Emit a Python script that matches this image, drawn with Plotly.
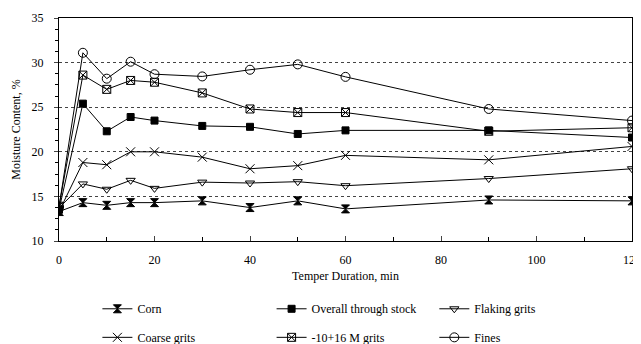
import plotly.graph_objects as go

minutes = [0, 5, 10, 15, 20, 30, 40, 50, 60, 90, 120]

corn = [13.3, 14.3, 14.0, 14.3, 14.3, 14.5, 13.75, 14.5, 13.6, 14.6, 14.5]
overall = [13.5, 25.4, 22.3, 23.9, 23.5, 22.9, 22.8, 22.0, 22.4, 22.4, 21.6]
flaking = [13.7, 16.4, 15.8, 16.8, 15.9, 16.6, 16.5, 16.65, 16.2, 17.0, 18.1]
coarse = [13.3, 18.8, 18.55, 20.0, 20.0, 19.4, 18.1, 18.45, 19.6, 19.1, 20.6]
m10_16 = [13.9, 28.6, 27.0, 28.0, 27.8, 26.6, 24.8, 24.4, 24.4, 22.3, 22.7]
fines = [13.8, 31.1, 28.2, 30.1, 28.7, 28.45, 29.2, 29.8, 28.4, 24.8, 23.5]

series = [
    ("Corn", corn, "hourglass", "black", 8),
    ("Overall through stock", overall, "square", "black", 7),
    ("Flaking grits", flaking, "triangle-down-open", "black", 8),
    ("Coarse grits", coarse, "x-thin-open", "black", 9),
    ("-10+16 M grits", m10_16, "square-x-open", "black", 8),
    ("Fines", fines, "circle-open", "black", 9),
]

# legend placement (paper coords): columns and rows
leg_x = [0.067, 0.371, 0.655]
leg_y = [-0.304, -0.432]

font = "Liberation Serif"
fig = go.Figure()
legend_layout = {}
for i, (name, vals, sym, col, size) in enumerate(series):
    lname = "legend" if i == 0 else f"legend{i+1}"
    fig.add_trace(go.Scatter(
        x=minutes, y=vals, name=name, mode="lines+markers",
        line=dict(color="black", width=1),
        marker=dict(symbol=sym, size=size, color=col,
                    line=dict(color="black", width=1)),
        legend=lname,
    ))
    legend_layout[lname] = dict(
        orientation="h", x=leg_x[i % 3], xanchor="left",
        y=leg_y[i // 3], yanchor="middle",
        font=dict(size=12, family=font, color="black"),
        bgcolor="rgba(0,0,0,0)", itemwidth=30,
    )

# page body has an 8px margin; the figure is sized to fill the 641x344 window
fig.update_layout(
    width=633, height=336,
    margin=dict(l=51, r=9, t=10, b=103, autoexpand=False),
    paper_bgcolor="white", plot_bgcolor="white",
    font=dict(family=font, size=12, color="black"),
    showlegend=True,
    xaxis=dict(range=[0, 120], dtick=20, ticks="inside", ticklen=5,
               ticklabelstandoff=8,
               showline=True, linecolor="black", linewidth=1, mirror=True,
               showgrid=False, zeroline=False,
               minor=dict(dtick=10, ticks="inside", ticklen=4, tickcolor="black"),
               title=dict(text="Temper Duration, min", standoff=5, font=dict(size=12)),
               tickfont=dict(size=12)),
    yaxis=dict(range=[10, 35], dtick=5, ticks="outside", ticklen=4,
               ticklabelstandoff=8,
               showline=True, linecolor="black", linewidth=1, mirror=True,
               showgrid=True, gridcolor="#444", griddash="dot", gridwidth=1,
               zeroline=False,
               minor=dict(dtick=1.25, ticks="outside", ticklen=3, tickcolor="black", showgrid=False),
               title=dict(text="Moisture Content, %", standoff=8, font=dict(size=12)),
               tickfont=dict(size=12)),
    **legend_layout,
)

fig.write_html("out.html")
